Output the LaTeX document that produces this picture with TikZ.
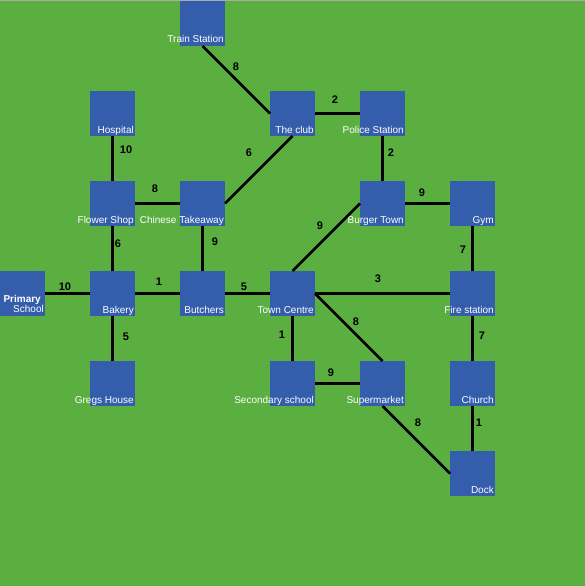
\documentclass[tikz,border=0pt]{standalone}
\usepackage{fontspec}
\setmainfont{Liberation Sans}
\definecolor{grass}{RGB}{90,175,64}
\definecolor{block}{RGB}{52,94,171}
\definecolor{rim}{RGB}{170,170,170}
\begin{document}
\begin{tikzpicture}[x=1pt,y=-1pt,
stop/.style={rectangle,fill=block,minimum size=45pt,inner sep=0pt,outer sep=0pt,anchor=north west},
tag/.style={text=white,font=\fontsize{10}{9}\selectfont,inner sep=0pt,anchor=base east,xshift=-1pt,yshift=3pt},
road/.style={line width=2.5pt},
wt/.style={font=\fontsize{11}{13}\selectfont\bfseries,inner sep=0pt}]
\fill[grass] (0,0) rectangle (585,586);
\useasboundingbox (0,0) rectangle (585,586);
\fill[rim] (0,0) rectangle (585,1);
\node[stop,label={[tag]south east:Train Station}] (train) at (180,1) {};
\node[stop,label={[tag]south east:Hospital}] (hosp) at (90,91) {};
\node[stop,label={[tag]south east:The club}] (club) at (270,91) {};
\node[stop,label={[tag]south east:Police Station}] (police) at (360,91) {};
\node[stop,label={[tag]south east:Flower Shop}] (flower) at (90,181) {};
\node[stop,label={[tag]south east:Chinese Takeaway}] (chinese) at (180,181) {};
\node[stop,label={[tag]south east:Burger Town}] (burger) at (360,181) {};
\node[stop,label={[tag]south east:Gym}] (gym) at (450,181) {};
\node[stop,label={[tag,anchor=south east,align=right]south east:\textbf{Primary}\hspace*{3pt}\\School}] (prim) at (0,271) {};
\node[stop,label={[tag]south east:Bakery}] (bakery) at (90,271) {};
\node[stop,label={[tag]south east:Butchers}] (butch) at (180,271) {};
\node[stop,label={[tag]south east:Town Centre}] (town) at (270,271) {};
\node[stop,label={[tag]south east:Fire station}] (fire) at (450,271) {};
\node[stop,label={[tag]south east:Gregs House}] (gregs) at (90,361) {};
\node[stop,label={[tag]south east:Secondary school}] (sec) at (270,361) {};
\node[stop,label={[tag]south east:Supermarket}] (super) at (360,361) {};
\node[stop,label={[tag]south east:Church}] (church) at (450,361) {};
\node[stop,label={[tag]south east:Dock}] (dock) at (450,451) {};
\draw[road] (hosp) -- (flower) (flower) -- (chinese) (flower) -- (bakery) (chinese) -- (butch)
(prim) -- (bakery) (bakery) -- (butch) (bakery) -- (gregs) (butch) -- (town)
(club) -- (police) (police) -- (burger) (burger) -- (gym) (gym) -- (fire)
(town) -- (fire) (town) -- (sec) (sec) -- (super) (fire) -- (church) (church) -- (dock);
\draw[road] (train.south) -- (club.west) (chinese.east) -- (club.south)
(town.north) -- (burger.west) (town.east) -- (super.north) (super.south) -- (dock.west);
\foreach \x/\y/\w [count=\i] in {236/67/8,126/150/10,155/189/8,249/153/6,335/100/2,391/153/2,
422/193/9,320/226/9,463/250/7,215/242/9,65/287/10,159/282/1,244/287/5,118/244/6,126/337/5,
282/335/1,378/279/3,356/322/8,331/373/9,482/336/7,418/423/8,479/423/1}
\node[wt] (w\i) at (\x,\y) {\w};
\end{tikzpicture}
\end{document}
